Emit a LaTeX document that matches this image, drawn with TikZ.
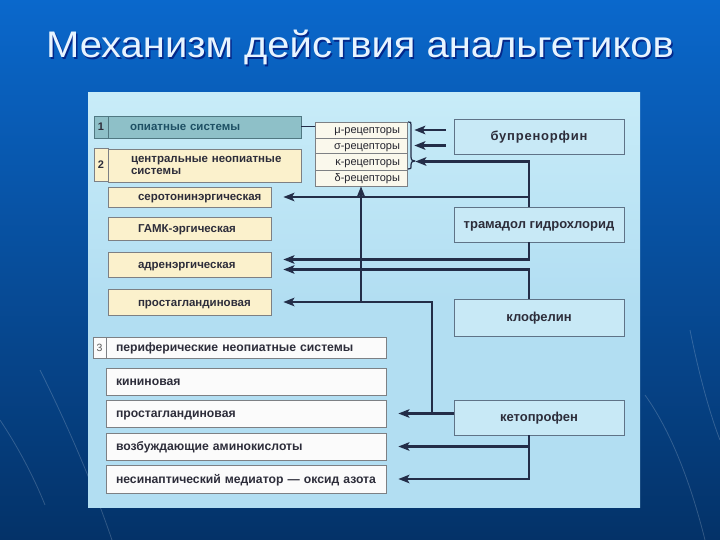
\documentclass[tikz,border=0pt]{standalone}
\usepackage{fontspec}
\setmainfont{Liberation Sans}
\usetikzlibrary{arrows.meta,calc}
\definecolor{bgtop}{RGB}{10,104,204}
\definecolor{bgbot}{RGB}{4,50,104}
\definecolor{paneltop}{RGB}{200,236,248}
\definecolor{panelbot}{RGB}{178,222,242}
\definecolor{opifill}{RGB}{142,192,200}
\definecolor{opidraw}{RGB}{80,120,130}
\definecolor{opitext}{RGB}{30,80,100}
\definecolor{yel}{RGB}{251,241,204}
\definecolor{boxdraw}{RGB}{125,128,132}
\definecolor{txt}{RGB}{45,45,58}
\definecolor{drugfill}{RGB}{200,233,246}
\definecolor{drugdraw}{RGB}{95,115,135}
\definecolor{wire}{RGB}{35,45,72}
\definecolor{recfill}{RGB}{250,248,236}
\definecolor{titlecol}{RGB}{232,244,255}
\begin{document}
\begin{tikzpicture}[x=1pt,y=-1pt,
  base/.style={draw=boxdraw, line width=0.8pt, inner sep=0pt, text=txt,
    font=\bfseries\fontsize{11.5}{11.5}\selectfont},
  one/.style={text height=8pt, text depth=0pt},
  numbox/.style={base, one, minimum width=14pt, font=\bfseries\fontsize{11}{12}\selectfont},
  opibox/.style={base, one, draw=opidraw, fill=opifill, text=opitext, minimum width=193pt, text width=193pt, align=left},
  cbox/.style={base, one, fill=yel, minimum width=163pt, text width=163pt, align=left},
  pbox/.style={base, one, fill=white!97!gray, minimum width=280pt, text width=280pt, align=left,
    font=\bfseries\fontsize{12.2}{12.5}\selectfont},
  rbox/.style={one, draw=boxdraw, fill=recfill, line width=0.6pt, inner sep=0pt, minimum width=92pt,
    text width=92pt, align=right, text=txt!80!black, font=\fontsize{11}{11}\selectfont},
  dbox/.style={one, draw=drugdraw, fill=drugfill, line width=0.8pt, inner sep=0pt, minimum width=170pt,
    text=txt, font=\bfseries\fontsize{13}{14}\selectfont},
  arr/.style={draw=wire, line width=2.3pt, line join=miter,
    -{Stealth[length=11pt,width=8.5pt,inset=2.5pt]}},
  wirethin/.style={draw=wire, line width=1pt},
  bracestyle/.style={draw=wire, line width=1.2pt, line join=round},
  deco/.style={draw=white, line width=0.8pt, opacity=0.18}
]
\useasboundingbox (0,0) rectangle (720,540);
% background
\shade[top color=bgtop, bottom color=bgbot] (0,0) rectangle (720,540);
\draw[deco] (40,370) .. controls (70,430) and (95,490) .. (112,540);
\draw[deco] (0,420) .. controls (20,450) and (35,480) .. (45,505);
\draw[deco] (645,395) .. controls (670,430) and (690,480) .. (705,540);
\draw[deco] (690,330) .. controls (700,380) and (712,420) .. (720,440);
% title
\node[anchor=base, text=black!60!blue, opacity=0.6, font=\fontsize{37}{40}\selectfont] at (361.5,59.5) {\scalebox{1.08}[1]{Механизм действия анальгетиков}};
\node[anchor=base, text=titlecol, font=\fontsize{37}{40}\selectfont] (title) at (360,58) {\scalebox{1.08}[1]{Механизм действия анальгетиков}};
% panel
\shade[top color=paneltop, bottom color=panelbot, middle color=panelbot] (88,93) rectangle (640,507);

% opiate / central systems
\node[numbox, fill=opifill, draw=opidraw, minimum height=22pt] (n1) at (101,127) {1};
\node[opibox, minimum height=22pt] (opi) at (204.5,127) {\hspace*{22pt}опиатные системы};
\node[numbox, fill=yel, minimum height=33pt] (n2) at (101,164.5) {2};
\node[base, fill=yel, minimum width=193pt, text width=193pt, align=left, minimum height=33pt] (cent) at (204.5,165.5)
  {\hspace*{23pt}центральные неопиатные\\\hspace*{23pt}системы};
\node[cbox, minimum height=20pt] (sero) at (189.5,197) {\hspace*{30pt}серотонинэргическая};
\node[cbox, minimum height=23pt] (gaba) at (189.5,228.5) {\hspace*{30pt}ГАМК-эргическая};
\node[cbox, minimum height=25pt] (adr) at (189.5,264.5) {\hspace*{30pt}адренэргическая};
\node[cbox, minimum height=26pt] (pros1) at (189.5,302) {\hspace*{30pt}простагландиновая};

% peripheral systems
\node[numbox, fill=white!97!gray, minimum width=13pt, minimum height=21pt, font=\fontsize{10.5}{12}\selectfont, text=black!65] (n3) at (99.5,347.5) {3};
\node[pbox, minimum height=21pt] (peri) at (246,347.5) {\hspace*{10pt}периферические неопиатные системы};
\node[pbox, minimum height=27pt] (kin) at (246,381.5) {\hspace*{10pt}кининовая};
\node[pbox, minimum height=27pt] (pros2) at (246,413.5) {\hspace*{10pt}простагландиновая};
\node[pbox, minimum height=27pt] (amino) at (246,446.5) {\hspace*{10pt}возбуждающие аминокислоты};
\node[pbox, minimum height=28pt] (nitro) at (246,479) {\hspace*{10pt}несинаптический медиатор — оксид азота};

% receptors
\node[rbox, minimum height=16pt] (mu) at (361,130) {μ-рецепторы\hspace*{7pt}};
\node[rbox, minimum height=15pt] (sigma) at (361,145.5) {σ-рецепторы\hspace*{7pt}};
\node[rbox, minimum height=17pt] (kappa) at (361,161.5) {κ-рецепторы\hspace*{7pt}};
\node[rbox, minimum height=16pt] (delta) at (361,178) {δ-рецепторы\hspace*{7pt}};
\draw[bracestyle] (408,122) .. controls (411,122) .. (411,125) -- (411,157)
  .. controls (411,160) .. (415,161) .. controls (411,162) .. (411,165)
  .. controls (411,169) .. (408,169);

% drugs
\node[dbox, minimum height=35pt] (bupr) at (539,136.5) {\addfontfeature{LetterSpace=6}бупренорфин};
\node[dbox, minimum height=35pt] (tram) at (539,224.5) {трамадол гидрохлорид};
\node[dbox, minimum height=37pt] (klof) at (539,317.5) {клофелин};
\node[dbox, minimum height=35pt] (keto) at (539,417.5) {кетопрофен};

\coordinate (tx) at (529,0);
\coordinate (kx) at (432,0);

% connectors
\draw[wirethin] (opi.east) -- (opi.east -| mu.west);
\draw[arr, shorten <=8pt] (bupr.west |- mu.east) -- ([xshift=7pt]mu.east);
\draw[arr, shorten <=8pt] (bupr.west |- sigma.east) -- ([xshift=7pt]sigma.east);
\draw[arr] (tx |- tram.north) |- ([xshift=8pt]kappa.east);
\draw[arr] (tx |- sero.east) -- ([xshift=12pt]sero.east);
\draw[arr] (tx |- tram.south) |- ([xshift=12pt,yshift=5pt]adr.east);
\draw[arr] (tx |- klof.north) |- ([xshift=12pt,yshift=-5pt]adr.east);
\draw[arr] (keto.west |- pros2.east) -- ([xshift=12pt]pros2.east);
\draw[arr] (kx |- pros2.east) |- ([xshift=12pt]pros1.east);
\draw[arr] (delta.south |- pros1.east) -- (delta.south);
\draw[arr] (tx |- keto.south) |- ([xshift=12pt]amino.east);
\draw[arr] (tx |- keto.south) |- ([xshift=12pt]nitro.east);
\end{tikzpicture}
\end{document}
